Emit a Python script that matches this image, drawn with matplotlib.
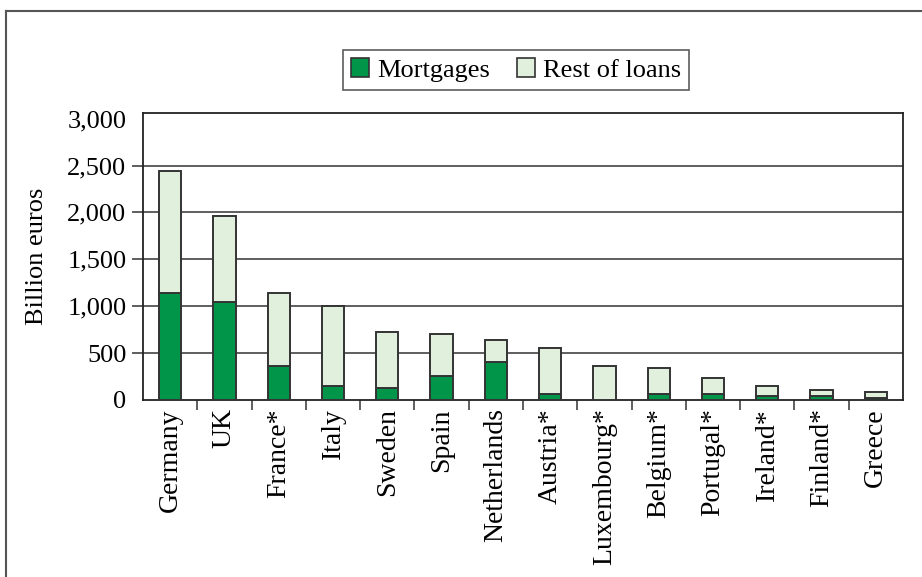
import numpy as np
import matplotlib
matplotlib.use("Agg")
import matplotlib.pyplot as plt
from matplotlib.lines import Line2D
from matplotlib.patches import Patch

# Data (billion euros)
countries = ['Germany', 'UK', 'France*', 'Italy', 'Sweden', 'Spain', 'Netherlands',
             'Austria*', 'Luxembourg*', 'Belgium*', 'Portugal*', 'Ireland*', 'Finland*', 'Greece']
mortgages = [1145, 1040, 360, 150, 130, 255, 405, 65, 5, 65, 65, 45, 45, 22]
totals = [2445, 1960, 1145, 1005, 720, 705, 640, 555, 365, 345, 235, 152, 110, 88]
rest = [t - m for t, m in zip(totals, mortgages)]

green = '#009548'
light = '#e1f0dc'
edge = '#333333'

plt.rcParams['font.family'] = ['Liberation Serif', 'DejaVu Serif']
plt.rcParams['font.size'] = 19

fig = plt.figure(figsize=(9.22, 5.77), dpi=100)
W, H = 922, 577
ax = fig.add_axes([143 / W, 1 - 400 / H, (903 - 143) / W, (400 - 113) / H])

x = np.arange(len(countries))
ax.bar(x, mortgages, width=0.41, color=green, edgecolor=edge, linewidth=1.4, zorder=3)
ax.bar(x, rest, bottom=mortgages, width=0.41, color=light, edgecolor=edge, linewidth=1.4, zorder=3)

ax.set_xlim(-0.5, len(countries) - 0.5)
ax.set_ylim(0, 3060)
for g in [500, 1000, 1500, 2000, 2500]:
    ax.axhline(g, color='#333333', linewidth=1.1, zorder=1)

ax.set_yticks([0, 500, 1000, 1500, 2000, 2500, 3000])
ax.set_yticklabels(['0', '500', '1,000', '1,500', '2,000', '2,500', '3,000'])
ax.tick_params(axis='y', direction='out', length=8, width=1.1, color='#333333', pad=4)
ax.yaxis.get_major_ticks()[-1].tick1line.set_visible(False)
ax.yaxis.get_major_ticks()[0].tick1line.set_visible(False)

ax.set_xticks(x)
ax.set_xticklabels(countries, rotation=90, fontsize=20)
ax.tick_params(axis='x', which='major', length=0, pad=6)
ax.set_xticks(np.arange(0.5, len(countries) - 1), minor=True)
ax.tick_params(axis='x', which='minor', direction='out', length=7, width=1.1, color='#333333')

for s in ax.spines.values():
    s.set_color('#222222')
    s.set_linewidth(1.3)

ax.set_ylabel('Billion euros', labelpad=14)

handles = [Patch(facecolor=green, edgecolor=edge, linewidth=1.2),
           Patch(facecolor=light, edgecolor=edge, linewidth=1.2)]
leg = fig.legend(handles, ['Mortgages', 'Rest of loans'], loc='center',
                 bbox_to_anchor=(516 / W, 1 - 70 / H), ncol=2, frameon=True,
                 fancybox=False, edgecolor='#333333', handlelength=0.7, handleheight=0.7,
                 handletextpad=0.3, columnspacing=1.0, borderpad=0.3)
leg.get_frame().set_linewidth(1.2)

# outer frame (cut at right and bottom)
fig.add_artist(Line2D([6 / W, 6 / W], [0, 1 - 11 / H], transform=fig.transFigure,
                      color='#555555', linewidth=1.5))
fig.add_artist(Line2D([6 / W, 1], [1 - 11 / H, 1 - 11 / H], transform=fig.transFigure,
                      color='#555555', linewidth=1.5))

fig.savefig('out.png', dpi=100)
